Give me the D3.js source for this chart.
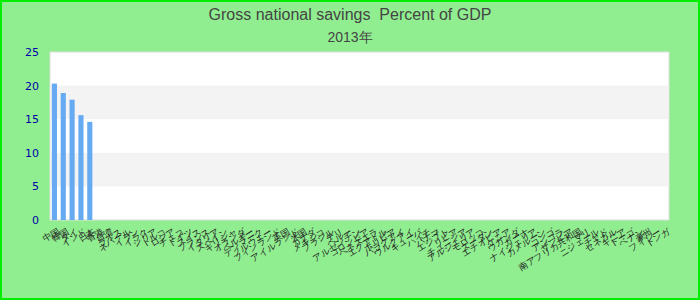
<!DOCTYPE html>
<html>
<head>
<meta charset="utf-8">
<script src="https://cdn.jsdelivr.net/npm/d3@7"></script>
<style>
  body { margin: 0; }
  svg { display: block; font-family: "Liberation Sans", Arial, sans-serif; }
</style>
</head>
<body>
<svg id="chart" width="700" height="300"></svg>
<script>
// categories (country names, read as tofu in the reference -> estimated)
var countries = ["中国","韓国","タイ","インド","日本","香港","台湾","ラオス","ネパール","イラン",
  "イラク","シリア","トルコ","ロシア","チェコ","ドイツ","スイス","フランス","イタリア","スペイン",
  "ギリシャ","オランダ","ベルギー","デンマーク","ノルウェー","フィンランド","英国","アイルランド","米国","カナダ",
  "メキシコ","ブラジル","チリ","ペルー","アルゼンチン","コロンビア","ベネズエラ","エクアドル","ボリビア","パラグアイ",
  "ウルグアイ","キューバ","ハイチ","パナマ","エジプト","リビア","チュニジア","アルジェリア","モロッコ","スーダン",
  "エチオピア","ケニア","ウガンダ","ガーナ","ナイジェリア","カメルーン","コンゴ","アンゴラ","ザンビア","南アフリカ共和国",
  "マリ","ニジェール","チャド","セネガル","ギニア","トーゴ","ベナン","豪州","フィジー","トンガ"];
// Gross national savings, percent of GDP, 2013 (only the first five have values)
var savings = [20.3, 18.9, 17.9, 15.6, 14.6];
var yTicks = [0, 5, 10, 15, 20, 25];
var title = "Gross national savings  Percent of GDP";
var subtitle = "2013年";

var W = 700, H = 300;
var margin = {left: 50, right: 31, top: 52, bottom: 80};
var svg = d3.select("#chart");

svg.append("rect")
  .attr("x", 1).attr("y", 1).attr("width", W - 2).attr("height", H - 2)
  .attr("fill", "#90ee90").attr("stroke", "#00ee00").attr("stroke-width", 2);

var x = d3.scaleBand()
  .domain(countries)
  .range([margin.left, W - margin.right])
  .paddingInner(0.42).paddingOuter(0.21);
var y = d3.scaleLinear()
  .domain([0, 25])
  .range([H - margin.bottom, margin.top]);

// plot background with alternate bands
svg.append("rect")
  .attr("x", margin.left).attr("y", margin.top)
  .attr("width", W - margin.left - margin.right)
  .attr("height", H - margin.top - margin.bottom)
  .attr("fill", "#ffffff").attr("stroke", "#dddddd");

svg.selectAll(".band")
  .data([5, 15])
  .enter().append("rect")
  .attr("x", margin.left + 0.5)
  .attr("width", W - margin.left - margin.right - 1)
  .attr("y", function(d){ return y(d + 5); })
  .attr("height", function(d){ return y(d) - y(d + 5); })
  .attr("fill", "#f3f3f3");

// bars
svg.selectAll(".bar")
  .data(savings)
  .enter().append("rect")
  .attr("x", function(d, i){ return x(countries[i]); })
  .attr("width", x.bandwidth())
  .attr("y", function(d){ return y(d); })
  .attr("height", function(d){ return y(0) - y(d); })
  .attr("fill", "#66aaf2");

// y axis
var yAxis = svg.append("g")
  .attr("transform", "translate(" + (margin.left - 8) + ",0)")
  .call(d3.axisLeft(y).tickValues(yTicks).tickSize(0));
yAxis.select(".domain").remove();
yAxis.selectAll("text")
  .attr("fill", "#0000aa")
  .style("font-size", "11px")
  .attr("font-family", "\"DejaVu Sans\", sans-serif");

// x axis labels
var xAxis = svg.append("g")
  .attr("transform", "translate(0," + (H - margin.bottom + 10) + ")")
  .call(d3.axisBottom(x).tickSize(0));
xAxis.select(".domain").remove();
xAxis.selectAll("text")
  .attr("fill", "#222")
  .style("font-size", "9px")
  .attr("text-anchor", "end")
  .attr("dx", "0.4em").attr("dy", "0.3em")
  .attr("transform", "rotate(-32)");

// titles
svg.append("text")
  .attr("x", W / 2).attr("y", 20)
  .attr("text-anchor", "middle")
  .attr("fill", "#444")
  .style("font-size", "16px")
  .style("white-space", "pre")
  .text(title);
svg.append("text")
  .attr("x", W / 2).attr("y", 42)
  .attr("text-anchor", "middle")
  .attr("fill", "#444")
  .style("font-size", "14px")
  .text(subtitle);
</script>
</body>
</html>
